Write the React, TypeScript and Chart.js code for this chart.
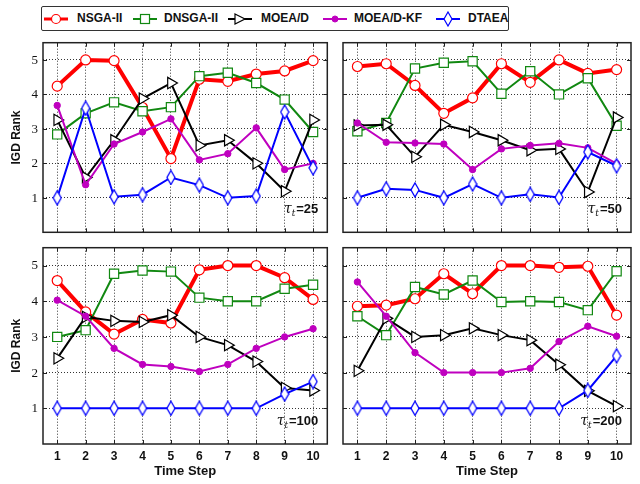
import React, { useEffect, useRef } from 'react';
import { Chart, registerables } from 'chart.js';
Chart.register(...registerables);

const timeSteps = [1, 2, 3, 4, 5, 6, 7, 8, 9, 10];
const yTickValues = [1, 2, 3, 4, 5];
const algorithms = ['NSGA-II', 'DNSGA-II', 'MOEA/D', 'MOEA/D-KF', 'DTAEA'];

// tau_t = 25
const nsga2_25 = [4.24, 5.0, 4.98, 3.62, 2.14, 4.44, 4.38, 4.59, 4.68, 4.98];
const dnsga2_25 = [2.84, 3.45, 3.77, 3.51, 3.63, 4.53, 4.63, 4.33, 3.85, 2.91];
const moead_25 = [3.26, 1.59, 2.67, 3.88, 4.33, 2.52, 2.67, 2.0, 1.19, 3.26];
const moeadkf_25 = [3.68, 1.38, 2.56, 2.91, 3.29, 2.1, 2.28, 3.03, 1.82, 2.0];
const dtaea_25 = [1.0, 3.6, 1.03, 1.09, 1.59, 1.37, 1.0, 1.05, 3.49, 1.87];

// tau_t = 50
const nsga2_50 = [4.81, 4.89, 4.26, 3.45, 3.9, 4.89, 4.35, 5.0, 4.61, 4.72];
const dnsga2_50 = [2.93, 3.17, 4.75, 4.92, 4.96, 4.02, 4.67, 4.0, 4.47, 3.09];
const moead_50 = [3.1, 3.12, 2.19, 3.12, 2.91, 2.67, 2.38, 2.42, 1.17, 3.33];
const moeadkf_50 = [3.17, 2.61, 2.59, 2.56, 1.82, 2.42, 2.52, 2.58, 2.45, 1.99];
const dtaea_50 = [1.0, 1.26, 1.23, 1.0, 1.4, 1.0, 1.1, 1.01, 2.33, 1.93];

// tau_t = 100
const nsga2_100 = [4.58, 3.7, 3.08, 3.49, 3.39, 4.88, 5.0, 5.0, 4.66, 4.05];
const dnsga2_100 = [3.0, 3.19, 4.77, 4.86, 4.83, 4.1, 4.0, 4.0, 4.35, 4.46];
const moead_100 = [2.4, 3.56, 3.45, 3.42, 3.61, 3.0, 2.77, 2.31, 1.57, 1.5];
const moeadkf_100 = [4.03, 3.58, 2.68, 2.23, 2.17, 2.03, 2.23, 2.68, 3.0, 3.23];
const dtaea_100 = [1.0, 1.0, 1.0, 1.0, 1.0, 1.0, 1.0, 1.0, 1.4, 1.75];

// tau_t = 200
const nsga2_200 = [3.86, 3.89, 4.07, 4.77, 4.21, 5.0, 5.0, 4.95, 4.98, 3.61];
const dnsga2_200 = [3.58, 3.05, 4.4, 4.19, 4.58, 3.98, 4.0, 3.98, 3.75, 4.84];
const moead_200 = [2.05, 3.52, 3.0, 3.05, 3.24, 3.05, 2.91, 2.22, 1.49, 1.06];
const moeadkf_200 = [4.54, 3.58, 2.56, 2.0, 2.0, 2.0, 2.12, 2.87, 3.3, 3.02];
const dtaea_200 = [1.0, 1.0, 1.0, 1.0, 1.0, 1.0, 1.0, 1.0, 1.5, 2.47];

const FONT = "'Liberation Sans', Arial, sans-serif";
const SERIF = "'Liberation Serif', 'DejaVu Serif', serif";
const COLORS = ['#ff0000', '#118811', '#000000', '#bf00bf', '#0000ff'];

function makeDiamond(): HTMLCanvasElement {
  const c = document.createElement('canvas');
  c.width = 10;
  c.height = 16;
  const ctx = c.getContext('2d')!;
  ctx.beginPath();
  ctx.moveTo(5, 1);
  ctx.lineTo(9, 8);
  ctx.lineTo(5, 15);
  ctx.lineTo(1, 8);
  ctx.closePath();
  ctx.fillStyle = '#ffffff';
  ctx.fill();
  ctx.lineWidth = 1.3;
  ctx.strokeStyle = '#0000ff';
  ctx.stroke();
  return c;
}

function seriesStyle(i: number, diamond: HTMLCanvasElement) {
  const c = COLORS[i];
  switch (i) {
    case 0:
      return { borderWidth: 4, pointStyle: 'circle', pointRadius: 5, pointBackgroundColor: '#fff', pointBorderWidth: 1.2, pointRotation: 0 };
    case 1:
      return { borderWidth: 2, pointStyle: 'rect', pointRadius: 6.5, pointBackgroundColor: '#fff', pointBorderWidth: 1.2, pointRotation: 0 };
    case 2:
      return { borderWidth: 2, pointStyle: 'triangle', pointRadius: 6.5, pointBackgroundColor: '#fff', pointBorderWidth: 1.2, pointRotation: 90 };
    case 3:
      return { borderWidth: 2, pointStyle: 'circle', pointRadius: 3.2, pointBackgroundColor: c, pointBorderWidth: 1, pointRotation: 0 };
    default:
      return { borderWidth: 2, pointStyle: diamond as any, pointRadius: 6, pointBackgroundColor: '#fff', pointBorderWidth: 1.2, pointRotation: 0 };
  }
}

type PanelProps = {
  left: number; top: number; width: number; height: number;
  series: number[][]; tau: string;
  showY: boolean; showX: boolean;
  yAxisWidth: number; xAxisHeight: number;
  padTop: number; padRight: number;
};

function Panel(p: PanelProps) {
  const ref = useRef<HTMLCanvasElement>(null);
  useEffect(() => {
    const diamond = makeDiamond();
    const datasets = p.series.map((vals, i) => ({
      label: algorithms[i],
      data: vals.map((v, j) => ({ x: timeSteps[j], y: v })),
      borderColor: COLORS[i],
      pointBorderColor: COLORS[i],
      order: 5 - i,
      tension: 0,
      ...seriesStyle(i, diamond),
    }));
    const framePlugin = {
      id: 'frame',
      afterDraw(chart: any) {
        const { ctx, chartArea: a, scales } = chart;
        ctx.save();
        ctx.strokeStyle = '#222';
        ctx.lineWidth = 1;
        ctx.setLineDash([]);
        ctx.beginPath();
        timeSteps.forEach((t) => {
          const x = Math.round(scales.x.getPixelForValue(t)) + 0.5;
          ctx.moveTo(x, a.bottom); ctx.lineTo(x, a.bottom - 4);
          ctx.moveTo(x, a.top); ctx.lineTo(x, a.top + 4);
        });
        yTickValues.forEach((v) => {
          const y = Math.round(scales.y.getPixelForValue(v)) + 0.5;
          ctx.moveTo(a.left, y); ctx.lineTo(a.left + 4, y);
          ctx.moveTo(a.right, y); ctx.lineTo(a.right - 4, y);
        });
        ctx.stroke();
        ctx.lineWidth = 1.5;
        ctx.strokeRect(a.left, a.top, a.right - a.left, a.bottom - a.top);
        // y tick labels
        if (p.showY) {
          ctx.fillStyle = '#111';
          ctx.font = `13px ${SERIF}`;
          ctx.textAlign = 'right';
          ctx.textBaseline = 'middle';
          yTickValues.forEach((v) => {
            ctx.fillText(String(v), a.left - 5, scales.y.getPixelForValue(v) + 0.5);
          });
        }
        // tau label
        const fTau = "italic 14px 'DejaVu Serif', serif";
        const fSub = "italic 9px 'DejaVu Serif', serif";
        const fNum = `bold 13px ${FONT}`;
        const rest = '=' + p.tau;
        ctx.font = fNum; const wRest = ctx.measureText(rest).width;
        ctx.font = fSub; const wSub = ctx.measureText('t').width;
        ctx.font = fTau; const wTau = ctx.measureText('τ').width;
        const xr = a.right - 9;
        const yb = a.bottom - 19;
        let x = xr - wRest - wSub - wTau - 1;
        ctx.fillStyle = '#111';
        ctx.textBaseline = 'alphabetic';
        ctx.textAlign = 'left';
        ctx.font = fTau; ctx.fillText('τ', x, yb); x += wTau;
        ctx.font = fSub; ctx.fillText('t', x, yb + 3); x += wSub + 1;
        ctx.font = fNum; ctx.fillText(rest, x, yb);
        ctx.restore();
      },
    };
    const chart = new Chart(ref.current!, {
      type: 'line',
      data: { datasets: datasets as any },
      options: {
        animation: false,
        responsive: false,
        devicePixelRatio: 1,
        layout: { padding: { top: p.padTop, right: p.padRight, left: 0, bottom: 0 } },
        plugins: { legend: { display: false }, tooltip: { enabled: false } },
        scales: {
          x: {
            type: 'linear', min: 0.5, max: 10.5,
            afterBuildTicks: (s: any) => { s.ticks = timeSteps.map((v) => ({ value: v })); },
            afterFit: (s: any) => { s.height = p.xAxisHeight; },
            grid: { color: '#000', lineWidth: 0.8, drawTicks: false },
            border: { display: false, dash: [1, 2] },
            ticks: { display: p.showX, color: '#111', font: { family: FONT, weight: 'bold', size: 12 }, padding: 5, maxRotation: 0 },
            title: { display: p.showX, text: 'Time Step', color: '#111', font: { family: FONT, weight: 'bold', size: 13 }, padding: { top: 0, bottom: 5 } },
          },
          y: {
            type: 'linear', min: 0, max: 5.5,
            afterBuildTicks: (s: any) => { s.ticks = yTickValues.map((v) => ({ value: v })); },
            afterFit: (s: any) => { s.width = p.yAxisWidth; },
            grid: { color: '#000', lineWidth: 0.8, drawTicks: false },
            border: { display: false, dash: [1, 2] },
            ticks: { display: false },
            title: { display: p.showY, text: 'IGD Rank', color: '#111', font: { family: FONT, weight: 'bold', size: 12 }, padding: { top: 9, bottom: 0 } },
          },
        },
      } as any,
      plugins: [framePlugin],
    });
    return () => chart.destroy();
  }, []);
  return (
    <canvas
      ref={ref}
      width={p.width}
      height={p.height}
      style={{ position: 'absolute', left: p.left, top: p.top, width: p.width, height: p.height }}
    />
  );
}

function LegendMarker({ i }: { i: number }) {
  const c = COLORS[i];
  const lw = i === 0 ? 3 : 2;
  let marker: React.ReactNode = null;
  if (i === 0) marker = <circle cx={12} cy={8} r={4.5} fill="#fff" stroke={c} strokeWidth={1.2} />;
  else if (i === 1) marker = <rect x={7.5} y={3.5} width={9} height={9} fill="#fff" stroke={c} strokeWidth={1.2} />;
  else if (i === 2) marker = <polygon points="7,3 17,8 7,13" fill="#fff" stroke={c} strokeWidth={1.2} />;
  else if (i === 3) marker = <circle cx={12} cy={8} r={3} fill={c} stroke={c} />;
  else marker = <polygon points="12,1 16,8 12,15 8,8" fill="#fff" stroke={c} strokeWidth={1.2} />;
  return (
    <svg width={24} height={16} style={{ position: 'absolute', left: 0, top: 0 }}>
      <line x1={0} y1={8} x2={24} y2={8} stroke={c} strokeWidth={lw} />
      {marker}
    </svg>
  );
}

const legendSampleX = [2, 91, 186, 281, 394];
const legendTextX = [35, 122, 219, 312, 426];

function Legend() {
  return (
    <div style={{ position: 'absolute', left: 41, top: 6, width: 466, height: 23, border: '1px solid #333', borderRadius: 2, background: '#fff' }}>
      {algorithms.map((name, i) => (
        <React.Fragment key={name}>
          <div style={{ position: 'absolute', left: legendSampleX[i], top: 3.5, width: 24, height: 16 }}>
            <LegendMarker i={i} />
          </div>
          <div style={{ position: 'absolute', left: legendTextX[i], top: 4, font: `bold 12px ${FONT}`, color: '#111', whiteSpace: 'nowrap', lineHeight: '15px' }}>
            {name}
          </div>
        </React.Fragment>
      ))}
    </div>
  );
}

export default function App() {
  const panels = [
    { tau: '25', series: [nsga2_25, dnsga2_25, moead_25, moeadkf_25, dtaea_25] },
    { tau: '50', series: [nsga2_50, dnsga2_50, moead_50, moeadkf_50, dtaea_50] },
    { tau: '100', series: [nsga2_100, dnsga2_100, moead_100, moeadkf_100, dtaea_100] },
    { tau: '200', series: [nsga2_200, dnsga2_200, moead_200, moeadkf_200, dtaea_200] },
  ];
  return (
    <div style={{ position: 'fixed', left: 0, top: 0, width: 640, height: 484, background: '#fff', overflow: 'hidden' }}>
      <Legend />
      <Panel left={0} top={35} width={335} height={205} series={panels[0].series} tau={panels[0].tau}
        showY={true} showX={false} yAxisWidth={43} xAxisHeight={3} padTop={4} padRight={7} />
      <Panel left={335} top={35} width={305} height={205} series={panels[1].series} tau={panels[1].tau}
        showY={false} showX={false} yAxisWidth={8} xAxisHeight={3} padTop={4} padRight={9} />
      <Panel left={0} top={240} width={335} height={244} series={panels[2].series} tau={panels[2].tau}
        showY={true} showX={true} yAxisWidth={43} xAxisHeight={40} padTop={5} padRight={7} />
      <Panel left={335} top={240} width={305} height={244} series={panels[3].series} tau={panels[3].tau}
        showY={false} showX={true} yAxisWidth={8} xAxisHeight={40} padTop={5} padRight={9} />
    </div>
  );
}
